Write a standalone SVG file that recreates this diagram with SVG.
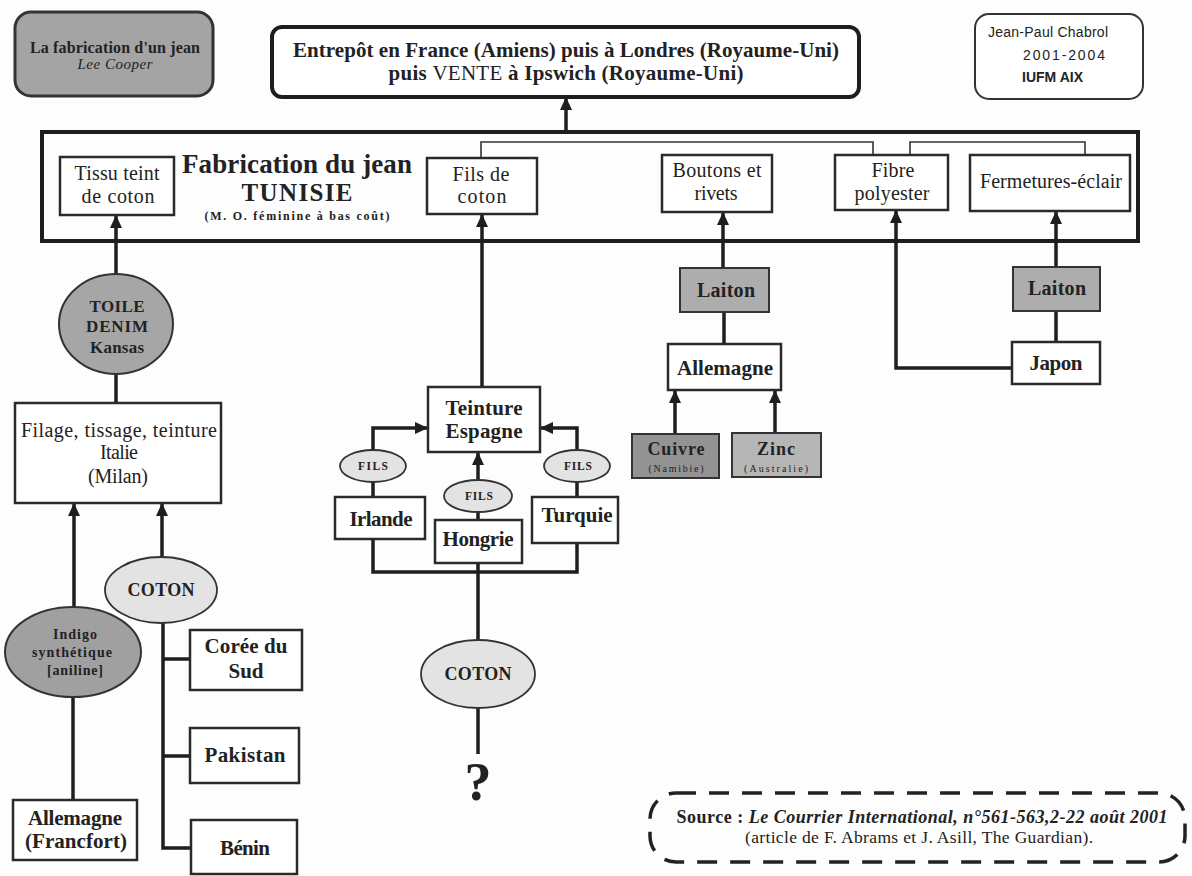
<svg xmlns="http://www.w3.org/2000/svg" width="1192" height="876" viewBox="0 0 1192 876">
  <defs>
    <marker id="arrow" viewBox="0 0 13 12" refX="12" refY="6" markerWidth="13" markerHeight="12" markerUnits="userSpaceOnUse" orient="auto">
      <path d="M0,0 L13,6 L0,12 z" fill="#1e1e1e"/>
    </marker>
    <style>
      text { font-family: "Liberation Serif", "Times New Roman", serif; fill: #222; text-anchor: middle; }
      .sans { font-family: "Liberation Sans", Arial, sans-serif; text-anchor: start; font-size: 14px; }
      .b { font-weight: bold; }
      .box { fill: #fff; stroke: #2a2a2a; stroke-width: 2.5; }
      .grey { fill: #a6a6a6; stroke: #333; stroke-width: 2; }
      .light { fill: #e3e3e3; stroke: #333; stroke-width: 1.8; }
      .link { fill: none; stroke: #1e1e1e; stroke-width: 3.5; }
      .thin { fill: none; stroke: #333; stroke-width: 1.6; }
      .reg { font-size: 20px; }
      .lbl { font-size: 21px; font-weight: bold; }
      .fils { font-size: 11.5px; font-weight: bold; }
    </style>
  </defs>

  <rect x="0" y="0" width="1192" height="876" fill="#fdfdfd"/>

  <!-- connectors -->
  <g id="connectors">
    <line class="link" x1="566" y1="132" x2="566" y2="98" marker-end="url(#arrow)"/>
    <path class="thin" d="M481,158 V142 H873 V155"/>
    <path class="thin" d="M910,155 V142 H1085 V155"/>
    <!-- into the Tunisian workshop -->
    <line class="link" x1="116" y1="274" x2="116" y2="216" marker-end="url(#arrow)"/>
    <line class="link" x1="482" y1="387" x2="482" y2="215" marker-end="url(#arrow)"/>
    <line class="link" x1="723" y1="268" x2="723" y2="213" marker-end="url(#arrow)"/>
    <path class="link" d="M1012,368 H896 V211" marker-end="url(#arrow)"/>
    <line class="link" x1="1056" y1="267" x2="1056" y2="212" marker-end="url(#arrow)"/>
    <!-- denim branch -->
    <line class="link" x1="116" y1="374" x2="116" y2="403"/>
    <line class="link" x1="74" y1="607" x2="74" y2="504" marker-end="url(#arrow)"/>
    <line class="link" x1="162" y1="557" x2="162" y2="504" marker-end="url(#arrow)"/>
    <line class="link" x1="73" y1="697" x2="73" y2="800"/>
    <path class="link" d="M163,623 V848 H191 M163,659 H190 M163,756 H190"/>
    <!-- dyeing branch -->
    <line class="link" x1="373" y1="497" x2="373" y2="482"/>
    <path class="link" d="M373,450 V428 H427" marker-end="url(#arrow)"/>
    <line class="link" x1="577" y1="497" x2="577" y2="482"/>
    <path class="link" d="M577,450 V428 H541" marker-end="url(#arrow)"/>
    <line class="link" x1="478" y1="520" x2="478" y2="512"/>
    <line class="link" x1="478" y1="480" x2="478" y2="453" marker-end="url(#arrow)"/>
    <path class="link" d="M373,539 V572 H577 V543"/>
    <line class="link" x1="478" y1="563" x2="478" y2="640"/>
    <line class="link" x1="478" y1="708" x2="478" y2="754"/>
    <!-- brass branches -->
    <line class="link" x1="724" y1="312" x2="724" y2="344"/>
    <line class="link" x1="675" y1="434" x2="675" y2="391" marker-end="url(#arrow)"/>
    <line class="link" x1="775" y1="433" x2="775" y2="391" marker-end="url(#arrow)"/>
    <line class="link" x1="1056" y1="311" x2="1056" y2="342"/>
  </g>

  <!-- heading box -->
  <g id="heading">
    <rect x="15" y="12" width="198" height="84" rx="16" fill="#a4a4a4" stroke="#333" stroke-width="3"/>
    <text x="115" y="53" class="b" font-size="16" textLength="170">La fabrication d'un jean</text>
    <text x="115" y="69" font-size="15" font-style="italic" textLength="75">Lee Cooper</text>
  </g>

  <g id="destination">
    <rect x="272" y="27" width="587" height="70" rx="10" fill="#fff" stroke="#1e1e1e" stroke-width="4"/>
    <text x="566" y="57" class="b" font-size="21" textLength="546">Entrepôt en France (Amiens) puis à Londres (Royaume-Uni)</text>
    <text x="566" y="80" class="b" font-size="21" textLength="355">puis <tspan font-weight="normal">VENTE</tspan> à Ipswich (Royaume-Uni)</text>
  </g>

  <g id="credits">
    <rect x="975" y="14" width="168" height="85" rx="14" fill="#fff" stroke="#333" stroke-width="2"/>
    <text x="988" y="37" class="sans" textLength="120">Jean-Paul Chabrol</text>
    <text x="1023" y="60" class="sans" textLength="82">2001-2004</text>
    <text x="1022" y="82" class="sans" font-weight="bold" font-size="13" textLength="61">IUFM AIX</text>
  </g>

  <!-- workshop frame -->
  <g id="tunisie">
    <rect x="42" y="132" width="1096" height="109" fill="none" stroke="#1e1e1e" stroke-width="4"/>
    <text x="297" y="173" class="b" font-size="27" textLength="230">Fabrication du jean</text>
    <text x="297" y="201" class="b" font-size="25" textLength="111">TUNISIE</text>
    <text x="297" y="220" class="b" font-size="12" textLength="185">(M. O. féminine à bas coût)</text>
  </g>
  <g id="tissu">
    <rect class="box" x="60" y="157" width="114" height="58"/>
    <text x="117" y="180" class="reg" textLength="85">Tissu teint</text>
    <text x="118" y="203" class="reg" textLength="73">de coton</text>
  </g>
  <g id="fils-coton">
    <rect class="box" x="427" y="158" width="110" height="56"/>
    <text x="481" y="181" class="reg" textLength="57">Fils de</text>
    <text x="482" y="203" class="reg" textLength="49">coton</text>
  </g>
  <g id="boutons">
    <rect class="box" x="662" y="155" width="110" height="57"/>
    <text x="717" y="177" class="reg" textLength="89">Boutons et</text>
    <text x="716" y="200" class="reg" textLength="43">rivets</text>
  </g>
  <g id="fibre">
    <rect class="box" x="835" y="155" width="113" height="55"/>
    <text x="893" y="177" class="reg" textLength="43">Fibre</text>
    <text x="892" y="200" class="reg" textLength="75">polyester</text>
  </g>
  <g id="fermetures">
    <rect class="box" x="970" y="155" width="160" height="56"/>
    <text x="1051" y="188" class="reg" textLength="142">Fermetures-éclair</text>
  </g>

  <!-- denim branch -->
  <g id="toile">
    <ellipse cx="116" cy="324" rx="57" ry="50" class="grey"/>
    <text x="117" y="312" class="b" font-size="17" textLength="55">TOILE</text>
    <text x="117" y="332" class="b" font-size="17" textLength="62">DENIM</text>
    <text x="117" y="353" class="b" font-size="17" textLength="54">Kansas</text>
  </g>
  <g id="italie">
    <rect class="box" x="15" y="403" width="206" height="100"/>
    <text x="119" y="437" class="reg" textLength="196">Filage, tissage, teinture</text>
    <text x="119" y="459" class="reg" textLength="38">Italie</text>
    <text x="118" y="483" class="reg" textLength="60">(Milan)</text>
  </g>
  <g id="coton-gauche">
    <ellipse cx="161" cy="590" rx="56" ry="33" class="light"/>
    <text x="161" y="596" class="b" font-size="18" textLength="67">COTON</text>
  </g>
  <g id="indigo">
    <ellipse cx="73" cy="652" rx="68" ry="45" fill="#a0a0a0" stroke="#333" stroke-width="2"/>
    <text x="75" y="639" class="b" font-size="14" textLength="44">Indigo</text>
    <text x="72" y="657" class="b" font-size="14" textLength="80">synthétique</text>
    <text x="75" y="675" class="b" font-size="14" textLength="56">[aniline]</text>
  </g>
  <g id="francfort">
    <rect class="box" x="13" y="800" width="124" height="60"/>
    <text x="75" y="825" class="lbl" textLength="94">Allemagne</text>
    <text x="76" y="848" class="lbl" textLength="102">(Francfort)</text>
  </g>
  <g id="coree">
    <rect class="box" x="190" y="630" width="112" height="60"/>
    <text x="246" y="653" class="lbl" textLength="83">Corée du</text>
    <text x="246" y="678" class="lbl" textLength="35">Sud</text>
  </g>
  <g id="pakistan">
    <rect class="box" x="190" y="728" width="109" height="55"/>
    <text x="245" y="762" class="lbl" textLength="81">Pakistan</text>
  </g>
  <g id="benin">
    <rect class="box" x="191" y="820" width="106" height="54"/>
    <text x="245" y="855" class="lbl" textLength="50">Bénin</text>
  </g>

  <!-- dyeing branch -->
  <g id="espagne">
    <rect class="box" x="428" y="387" width="112" height="65"/>
    <text x="484" y="415" class="lbl" textLength="77">Teinture</text>
    <text x="484" y="438" class="lbl" textLength="77">Espagne</text>
  </g>
  <g id="fils-irlande">
    <ellipse cx="373" cy="466" rx="33" ry="16" class="light"/>
    <text x="373" y="470" class="fils" textLength="30">FILS</text>
  </g>
  <g id="fils-hongrie">
    <ellipse cx="478" cy="496" rx="34" ry="16" class="light"/>
    <text x="479" y="500" class="fils" textLength="28">FILS</text>
  </g>
  <g id="fils-turquie">
    <ellipse cx="577" cy="466" rx="33" ry="16" class="light"/>
    <text x="578" y="470" class="fils" textLength="28">FILS</text>
  </g>
  <g id="irlande">
    <rect class="box" x="335" y="497" width="90" height="42"/>
    <text x="381" y="526" class="lbl" textLength="63">Irlande</text>
  </g>
  <g id="hongrie">
    <rect class="box" x="435" y="520" width="87" height="43"/>
    <text x="478" y="546" class="lbl" textLength="71">Hongrie</text>
  </g>
  <g id="turquie">
    <rect class="box" x="532" y="497" width="86" height="46"/>
    <text x="577" y="522" class="lbl" textLength="71">Turquie</text>
  </g>
  <g id="coton-milieu">
    <ellipse cx="478" cy="674" rx="57" ry="34" class="light"/>
    <text x="478" y="680" class="b" font-size="18" textLength="67">COTON</text>
  </g>
  <g id="inconnu">
    <text x="478" y="800" class="b" font-size="54">?</text>
  </g>

  <!-- brass for buttons -->
  <g id="laiton-boutons">
    <rect x="680" y="268" width="89" height="44" fill="#adadad" stroke="#333" stroke-width="2"/>
    <text x="726" y="297" class="b" font-size="20" textLength="58">Laiton</text>
  </g>
  <g id="allemagne">
    <rect class="box" x="668" y="344" width="113" height="46"/>
    <text x="725" y="375" class="lbl" textLength="96">Allemagne</text>
  </g>
  <g id="cuivre">
    <rect x="632" y="434" width="87" height="44" fill="#939393" stroke="#333" stroke-width="2"/>
    <text x="676" y="455" class="b" font-size="18" textLength="57">Cuivre</text>
    <text x="676" y="472" font-size="10" textLength="55">(Namibie)</text>
  </g>
  <g id="zinc">
    <rect x="732" y="433" width="89" height="44" fill="#b6b6b6" stroke="#333" stroke-width="2"/>
    <text x="776" y="455" class="b" font-size="18" textLength="38">Zinc</text>
    <text x="776" y="472" font-size="10" textLength="64">(Australie)</text>
  </g>

  <!-- brass for zips -->
  <g id="laiton-fermetures">
    <rect x="1013" y="267" width="87" height="44" fill="#adadad" stroke="#333" stroke-width="2"/>
    <text x="1057" y="295" class="b" font-size="20" textLength="58">Laiton</text>
  </g>
  <g id="japon">
    <rect class="box" x="1012" y="342" width="88" height="42"/>
    <text x="1056" y="370" class="lbl" textLength="53">Japon</text>
  </g>

  <!-- source note -->
  <g id="source">
    <rect x="650" y="793" width="535" height="69" rx="26" fill="none" stroke="#222" stroke-width="3.5" stroke-dasharray="20 13"/>
    <text x="922" y="823" class="b" font-size="18" textLength="491">Source : <tspan font-style="italic">Le Courrier International, n°561-563,2-22 août 2001</tspan></text>
    <text x="919" y="843" font-size="17.5" textLength="348">(article de F. Abrams et J. Asill, The Guardian).</text>
  </g>
</svg>
